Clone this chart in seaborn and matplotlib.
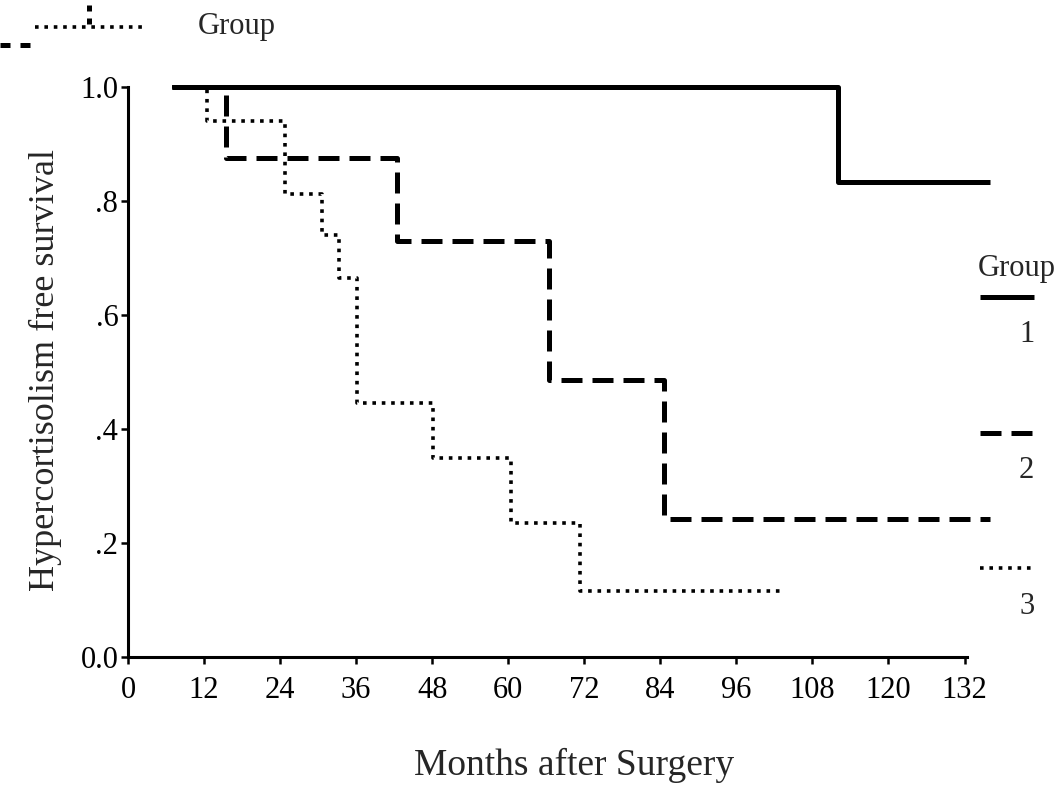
import numpy as np
import pandas as pd
import seaborn as sns
import matplotlib
matplotlib.use("Agg")
import matplotlib.pyplot as plt
from matplotlib.lines import Line2D

# ---- data ----
g1_months = [7, 112, 136]
g1_surv = [1.0, 0.833, 0.833]
g2_months = [7, 15.5, 42.5, 66.5, 84.5, 136]
g2_surv = [1.0, 0.875, 0.73, 0.486, 0.243, 0.243]
g3_months = [7, 12.5, 24.8, 30.6, 33.3, 36.2, 48.2, 60.5, 71.4, 103]
g3_surv = [1.0, 0.94, 0.812, 0.74, 0.665, 0.445, 0.35, 0.235, 0.115, 0.115]
groups = ["1", "2", "3"]
x_ticks = [0, 12, 24, 36, 48, 60, 72, 84, 96, 108, 120, 132]
y_ticks = [0.0, 0.2, 0.4, 0.6, 0.8, 1.0]
y_tick_labels = ["0.0", ".2", ".4", ".6", ".8", "1.0"]

df = pd.concat([
    pd.DataFrame({"month": g1_months, "surv": g1_surv, "group": groups[0]}),
    pd.DataFrame({"month": g2_months, "surv": g2_surv, "group": groups[1]}),
    pd.DataFrame({"month": g3_months, "surv": g3_surv, "group": groups[2]}),
])

sns.set_style("ticks")
plt.rcParams["font.family"] = ["Liberation Serif", "DejaVu Serif"]

fig = plt.figure(figsize=(10.63, 7.86), dpi=100)
ax = fig.add_axes([0.1204, 0.1641, 0.936 - 0.1204, 0.8893 - 0.1641])

styles = {
    "1": dict(lw=3.6, ls="-"),
    "2": dict(lw=3.6, ls=(0, (4.2, 2.0))),
    "3": dict(lw=2.6, ls=(0, (1.0, 1.6))),
}
for g in groups:
    sub = df[df["group"] == g]
    sns.lineplot(data=sub, x="month", y="surv", ax=ax, drawstyle="steps-post",
                 estimator=None, color="black", linewidth=styles[g]["lw"],
                 linestyle=styles[g]["ls"], legend=False, clip_on=False,
                 solid_capstyle="butt", dash_capstyle="butt")

ax.set_xlim(0, 136.8)
ax.set_ylim(0, 1.0)
ax.set_xticks(x_ticks)
ax.set_xticklabels([str(t) for t in x_ticks])
ax.set_yticks(y_ticks)
ax.set_yticklabels(y_tick_labels)
ax.spines["top"].set_visible(False)
ax.spines["right"].set_visible(False)
ax.spines["bottom"].set_bounds(0, 132.4)
for s in ("left", "bottom"):
    ax.spines[s].set_linewidth(2.2)
    ax.spines[s].set_color("black")
ax.tick_params(axis="x", direction="out", length=5, width=1.8, colors="black",
               labelsize=22, pad=9)
ax.tick_params(axis="y", direction="out", length=5, width=1.8, colors="black",
               labelsize=22, pad=2)
ax.set_xlabel("Months after Surgery", fontsize=27)
ax.set_ylabel("Hypercortisolism free survival", fontsize=26)
ax.xaxis.set_label_coords(0.514, -0.160)
ax.yaxis.set_label_coords(-0.076, 0.503)

# ---- legend at right ----
fig.text(0.920, 0.658, "Group", fontsize=22, ha="left", va="center")
sample_y = [0.622, 0.449, 0.277]
label_y = [0.574, 0.402, 0.229]
for g, sy, ly in zip(groups, sample_y, label_y):
    fig.add_artist(Line2D([0.922, 0.973], [sy, sy], color="black",
                          lw=styles[g]["lw"], ls=styles[g]["ls"],
                          solid_capstyle="butt", dash_capstyle="butt"))
    fig.text(0.973, ly, g, fontsize=22, ha="right", va="center")

# ---- clipped legend artifact at top-left ----
fig.text(0.186, 0.966, "Group", fontsize=22, ha="left", va="center")
fig.add_artist(Line2D([0.033, 0.137], [0.966, 0.966], color="black",
                      lw=styles["3"]["lw"], ls=styles["3"]["ls"]))
fig.add_artist(Line2D([0.0, 0.034], [0.943, 0.943], color="black",
                      lw=styles["2"]["lw"], ls=(0, (2.0, 2.0))))
fig.add_artist(Line2D([0.084, 0.084], [0.97, 1.0], color="black",
                      lw=styles["2"]["lw"], ls=(0, (1.2, 1.4))))

fig.savefig("out.png", dpi=100)
